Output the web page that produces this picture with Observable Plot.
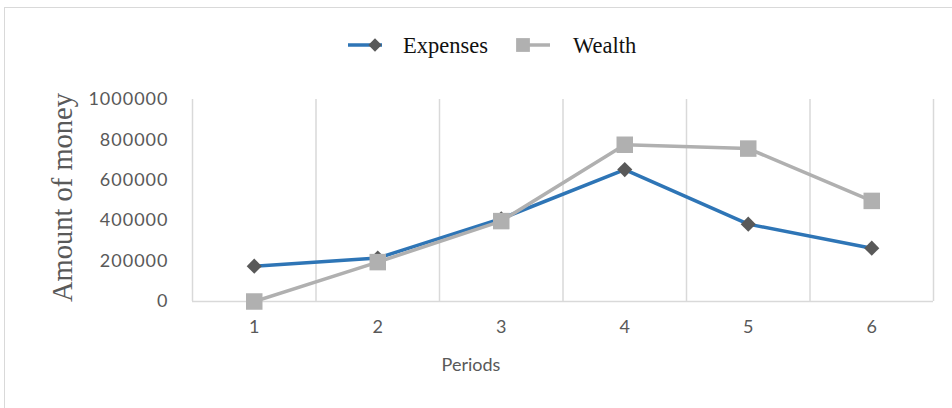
<!DOCTYPE html>
<html>
<head>
<meta charset="utf-8">
<script src="https://cdn.jsdelivr.net/npm/d3@7"></script>
<script src="https://cdn.jsdelivr.net/npm/@observablehq/plot@0.6"></script>
<style>
  html, body { margin: 0; padding: 0; background: #fff; }
  #wrap { position: relative; width: 952px; height: 408px; overflow: hidden; background: #fff; }
  #border { position: absolute; left: 4px; top: 7px; width: 960px; height: 420px;
            border-left: 1.5px solid #d9d9d9; border-top: 1.5px solid #d9d9d9; box-sizing: border-box; }
  #chart { position: absolute; left: 0; top: 0; }
  #legend { position: absolute; left: 0; top: 0; }
  #chart g[aria-label="y-axis tick label"] text { letter-spacing: 1px; }
</style>
</head>
<body>
<div id="wrap">
  <div id="border"></div>
  <div id="chart"></div>
  <svg id="legend" width="952" height="80"></svg>
</div>
<script>
// ---- data ----
const periods = [1, 2, 3, 4, 5, 6];
const expenses = [175000, 215000, 410000, 653000, 383000, 264000];
const wealth = [0, 195000, 398000, 776000, 757000, 498000];
const yTicks = [0, 200000, 400000, 600000, 800000, 1000000];
const seriesNames = ["Expenses", "Wealth"];
const seriesColors = ["#2e75b6", "#b0b0b0"];
const markerColors = ["#595959", "#b0b0b0"];

const data = periods.map((p, i) => ({period: p, expenses: expenses[i], wealth: wealth[i]}));
const boundaries = [...periods.map(p => p - 0.5), periods[periods.length - 1] + 0.5];

const chart = Plot.plot({
  width: 952,
  height: 408,
  marginLeft: 192,
  marginRight: 19,
  marginTop: 99,
  marginBottom: 107,
  x: {type: "linear", domain: [boundaries[0], boundaries[boundaries.length - 1]]},
  y: {domain: [0, 1000000]},
  style: {fontFamily: "Lato", fontSize: "18px", color: "#595959", background: "transparent"},
  marks: [
    Plot.ruleX(boundaries, {stroke: "#d9d9d9", strokeWidth: 1.5}),
    Plot.ruleY([0], {stroke: "#d9d9d9", strokeWidth: 1.5}),
    Plot.axisY({ticks: yTicks, tickSize: 0, tickPadding: 24, tickFormat: d3.format("d"), label: null, fill: "#595959"}),
    Plot.axisX({ticks: periods, tickSize: 0, tickPadding: 19, tickFormat: d => String(d), label: null, fill: "#595959"}),
    Plot.line(data, {x: "period", y: "expenses", stroke: seriesColors[0], strokeWidth: 3.5}),
    Plot.line(data, {x: "period", y: "wealth", stroke: seriesColors[1], strokeWidth: 3.5}),
    Plot.dot(data, {x: "period", y: "expenses", symbol: "diamond2", r: 6.8, fill: markerColors[0], stroke: "none"}),
    Plot.dot(data, {x: "period", y: "wealth", symbol: "square", r: 9.3, fill: markerColors[1], stroke: "none"}),
    Plot.text(["Amount of money"], {frameAnchor: "left", textAnchor: "middle", lineAnchor: "middle", rotate: -90, dx: -130, dy: -3,
      fontFamily: "Liberation Serif", fontSize: 28.5, fill: "#595959"}),
    Plot.text(["Periods"], {frameAnchor: "bottom", lineAnchor: "middle", dx: -92, dy: 64, fontSize: 18, fill: "#595959"})
  ]
});
document.getElementById("chart").appendChild(chart);

// ---- legend ----
const lg = d3.select("#legend");
const ly = 45;
// Expenses
lg.append("line").attr("x1", 348).attr("x2", 382).attr("y1", ly).attr("y2", ly)
  .attr("stroke", seriesColors[0]).attr("stroke-width", 3.5);
lg.append("path").attr("d", d3.symbol(d3.symbolDiamond2, 112)()).attr("transform", `translate(375,${ly})`)
  .attr("fill", markerColors[0]);
lg.append("text").attr("x", 403).attr("y", 53).text(seriesNames[0])
  .attr("font-family", "Liberation Serif").attr("font-size", 22.5).attr("fill", "#111");
// Wealth
lg.append("line").attr("x1", 523).attr("x2", 550).attr("y1", ly).attr("y2", ly)
  .attr("stroke", seriesColors[1]).attr("stroke-width", 3.5);
lg.append("path").attr("d", d3.symbol(d3.symbolSquare, 190)()).attr("transform", `translate(523,${ly})`)
  .attr("fill", markerColors[1]);
lg.append("text").attr("x", 573).attr("y", 53).text(seriesNames[1])
  .attr("font-family", "Liberation Serif").attr("font-size", 22.5).attr("fill", "#111");
</script>
</body>
</html>
